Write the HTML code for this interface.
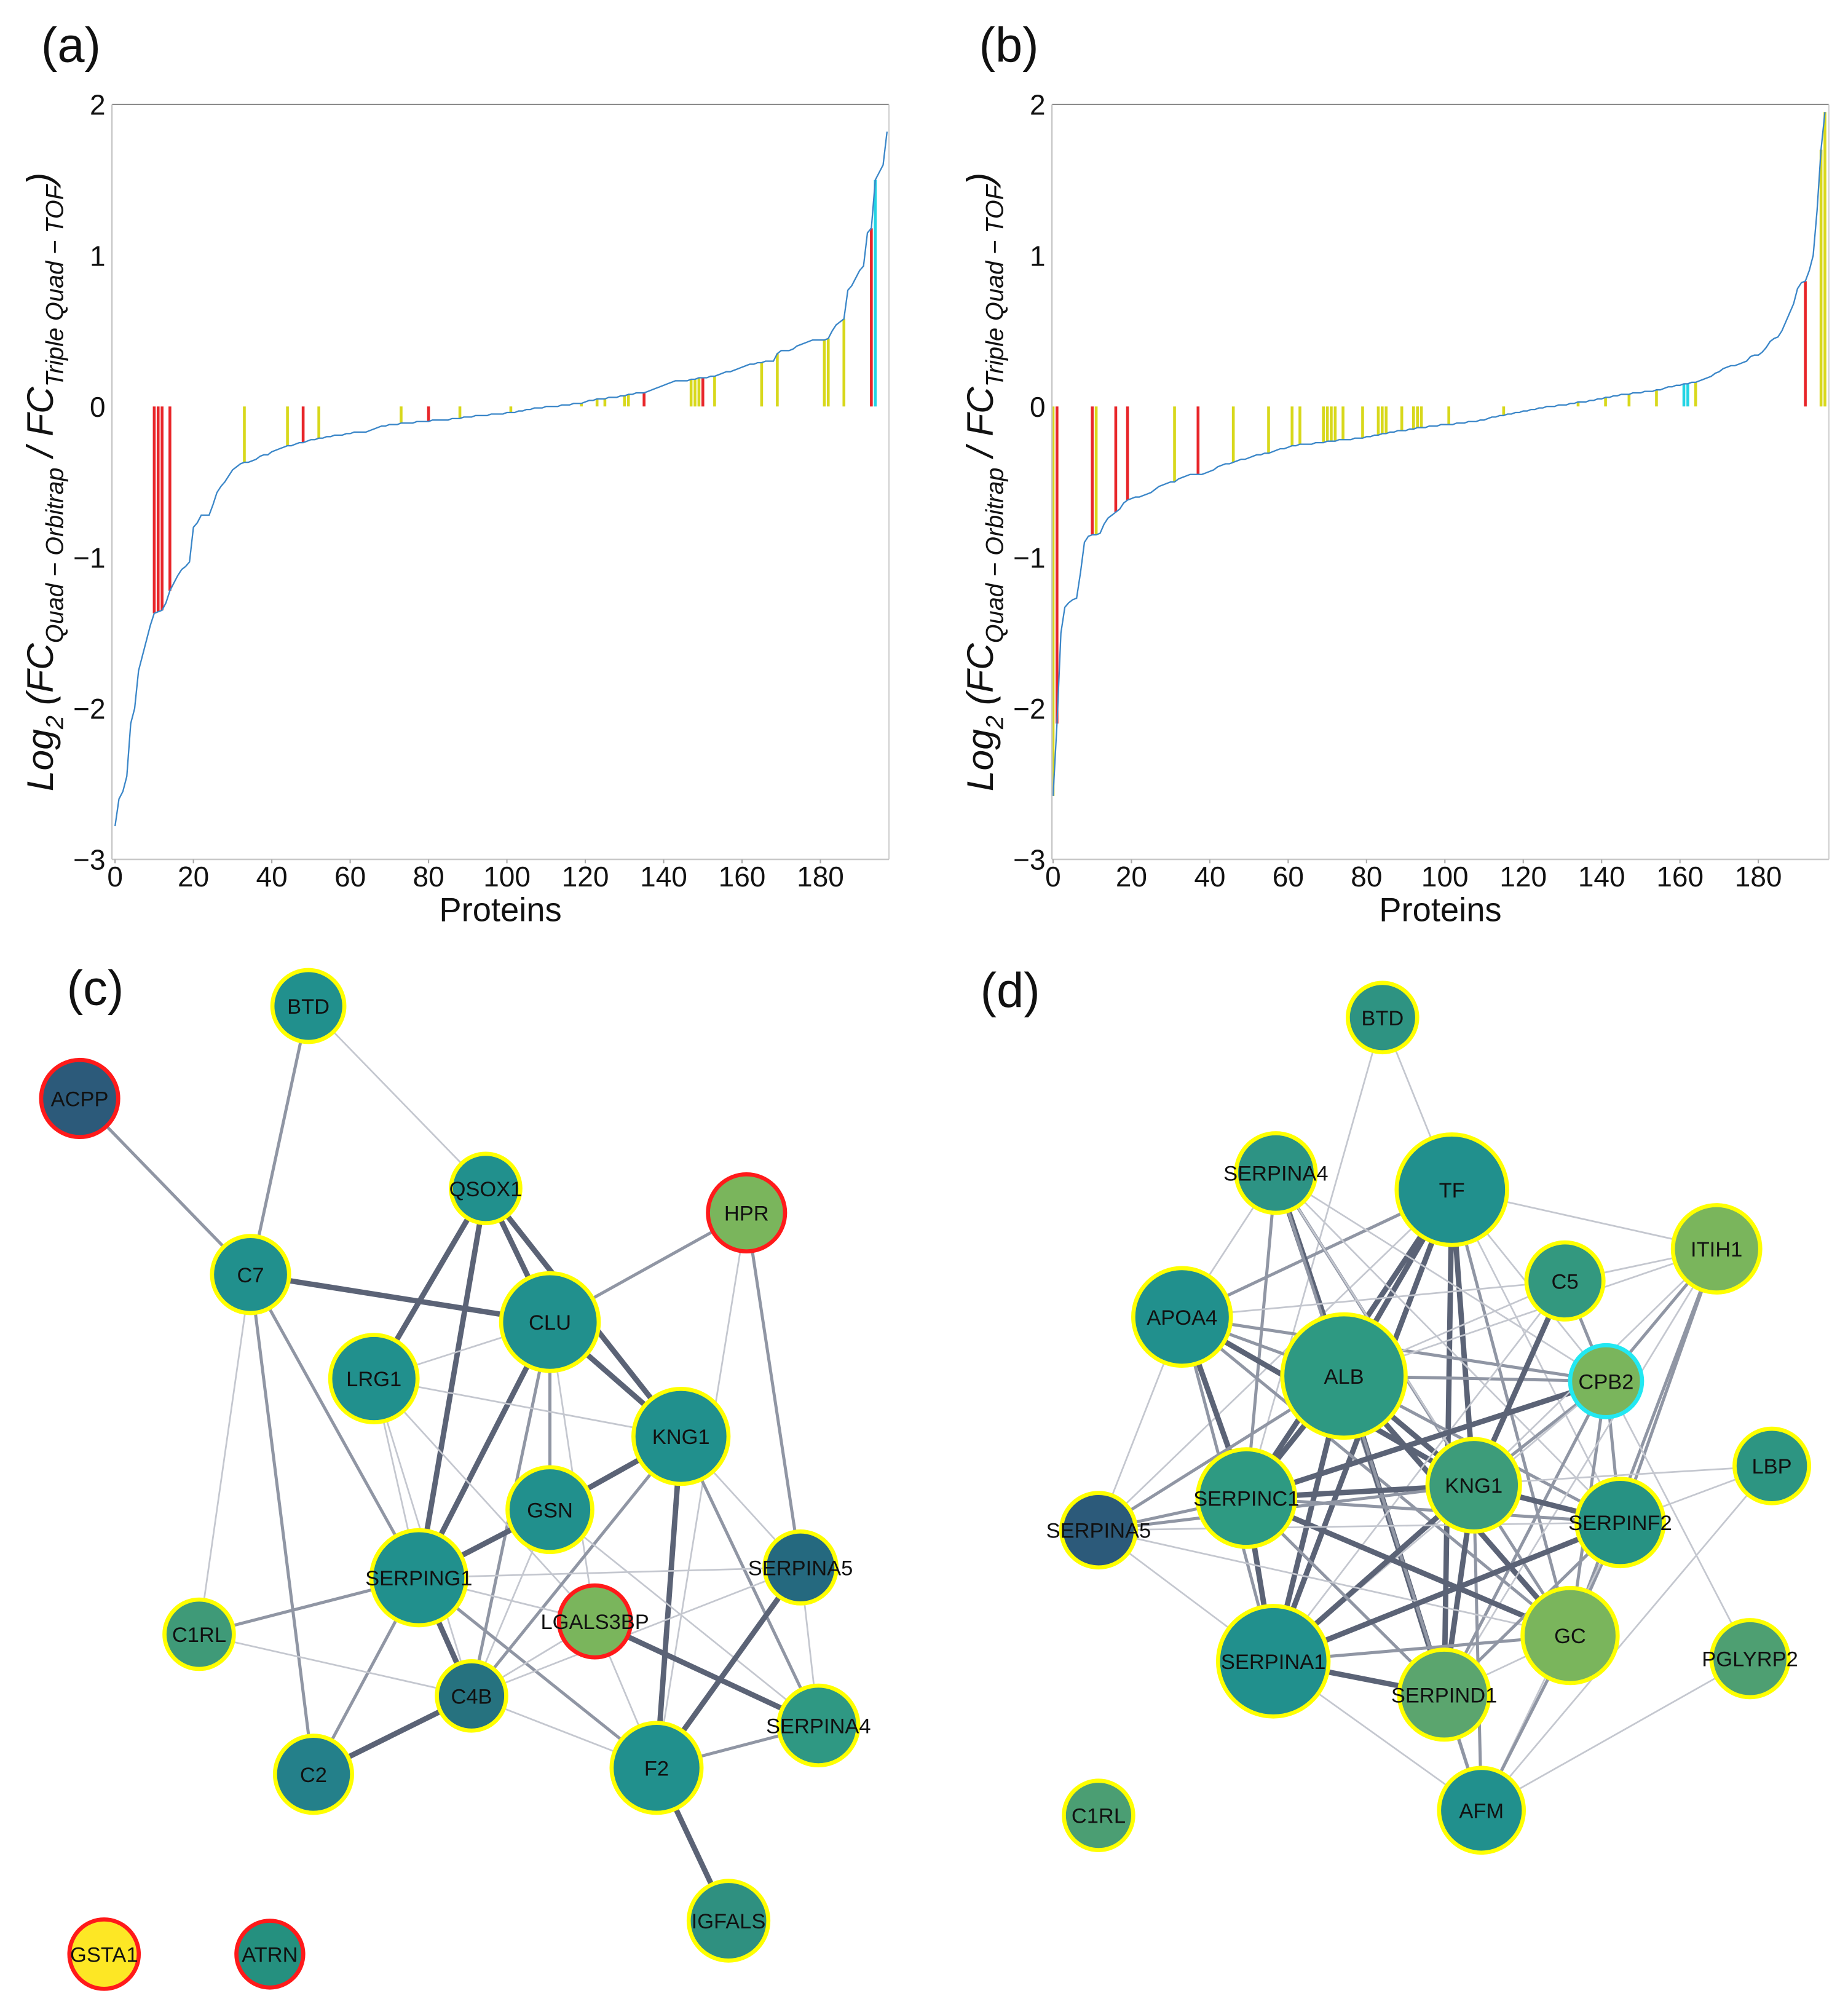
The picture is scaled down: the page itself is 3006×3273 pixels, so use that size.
<!DOCTYPE html>
<html><head><meta charset="utf-8"><style>
html,body{margin:0;padding:0;background:#fff;}
svg{display:block;}
text{font-family:"Liberation Sans",sans-serif;}
</style></head><body>
<svg id="fig" width="3006" height="3273" viewBox="0 0 1438.3 1566" xmlns="http://www.w3.org/2000/svg">
<rect width="1438.3" height="1566" fill="#fff"/>
</svg>
<script>
// ---- chart data (a) ----
const valuesA = [-2.78,-2.6,-2.55,-2.45,-2.1,-2.0,-1.75,-1.65,-1.55,-1.45,-1.37,-1.36,-1.35,-1.3,-1.22,-1.17,-1.12,-1.08,-1.06,-1.03,-0.8,-0.77,-0.72,-0.72,-0.72,-0.65,-0.57,-0.53,-0.5,-0.46,-0.42,-0.4,-0.38,-0.37,
-0.37,-0.36,-0.35,-0.33,-0.32,-0.32,-0.3,-0.29,-0.28,-0.27,-0.26,-0.26,
-0.25,-0.24,-0.24,-0.23,-0.22,-0.22,-0.21,-0.21,-0.2,-0.2,-0.19,-0.19,-0.19,-0.18,
-0.18,-0.17,-0.17,-0.17,-0.17,-0.16,-0.15,-0.14,-0.13,-0.13,
-0.12,-0.12,-0.12,-0.11,-0.11,-0.11,-0.11,-0.1,-0.1,-0.1,-0.1,-0.09,-0.09,-0.09,-0.09,-0.09,-0.08,-0.08,-0.08,-0.07,-0.07,-0.07,-0.06,-0.06,-0.06,-0.06,-0.05,-0.05,-0.05,-0.05,
-0.04,-0.04,-0.04,-0.03,-0.03,-0.02,-0.02,-0.01,-0.01,-0.01,0,0,0,0,0.01,0.01,0.01,0.02,0.02,0.02,
0.03,0.04,0.04,0.05,0.05,0.05,0.06,0.06,0.06,0.07,0.07,0.08,0.08,0.09,0.09,0.09,
0.1,0.11,0.12,0.13,0.14,0.15,0.16,0.17,0.17,0.17,0.17,0.18,0.18,0.19,
0.19,0.19,0.2,0.2,0.21,0.22,0.23,0.23,0.24,0.25,0.26,0.27,0.28,0.28,0.29,
0.29,0.3,0.3,0.3,0.35,0.37,0.37,0.37,0.38,0.4,
0.41,0.42,0.43,0.44,0.44,0.44,0.44,0.45,
0.5,0.54,0.56,0.58,0.77,0.8,0.85,0.9,0.93,1.15,1.18,1.5,1.55,1.6,1.82];
const yellowA = [33,44,52,73,88,101,119,123,125,130,131,147,148,149,153,165,169,181,182,186];
const redA = [10,11,12,14,48,80,135,150,193];
const cyanA = [194];

// ---- chart data (b) ----
const valuesB = [-2.58,-2.1,-1.5,-1.33,-1.3,-1.28,-1.27,-1.1,-0.9,-0.86,-0.85,-0.85,-0.84,-0.78,-0.74,-0.72,-0.7,-0.68,-0.64,-0.62,-0.61,-0.6,-0.6,-0.59,-0.58,-0.57,-0.55,-0.53,-0.52,-0.51,-0.5,-0.5,-0.48,-0.47,-0.46,-0.45,-0.45,-0.45,-0.45,-0.44,-0.43,-0.42,-0.4,-0.39,-0.38,-0.38,-0.37,-0.36,-0.35,-0.35,-0.34,
-0.33,-0.32,-0.32,-0.31,-0.31,-0.3,-0.29,-0.28,-0.28,-0.27,
-0.26,-0.26,-0.25,-0.25,-0.25,-0.25,-0.24,-0.24,-0.24,-0.23,
-0.23,-0.23,-0.22,-0.22,-0.22,-0.22,-0.21,-0.21,-0.21,-0.2,
-0.2,-0.19,-0.19,-0.18,-0.18,-0.17,-0.17,-0.16,-0.16,-0.16,-0.15,-0.15,-0.14,-0.14,-0.14,
-0.13,-0.13,-0.13,-0.12,-0.12,-0.12,-0.12,-0.11,-0.11,-0.11,-0.1,-0.1,-0.1,-0.09,-0.09,
-0.08,-0.07,-0.07,-0.06,-0.06,-0.05,-0.05,-0.04,-0.04,-0.03,-0.03,-0.02,-0.02,-0.01,-0.01,
0,0,0,0.01,0.01,0.01,0.02,0.02,0.03,0.03,0.03,0.04,0.04,0.05,0.05,
0.06,0.06,0.07,0.07,0.08,0.08,0.08,0.09,0.09,0.09,0.1,0.1,0.1,0.11,0.11,
0.12,0.13,0.13,0.14,0.14,0.15,0.15,0.16,0.16,0.17,
0.18,0.19,0.2,0.22,0.23,0.25,0.26,0.27,0.27,0.28,
0.29,0.3,0.33,0.34,0.34,0.36,0.39,0.43,0.45,0.46,
0.5,0.56,0.62,0.68,0.78,0.82,0.83,0.9,1.0,1.3,1.7,1.95];
const yellowB = [0,11,31,46,55,61,63,69,70,71,72,74,79,83,84,85,89,92,93,94,101,115,134,141,147,154,164,196,197];
const redB = [1,10,16,19,37,192];
const cyanB = [161,162];

const yTicks = [2,1,0,-1,-2,-3];
const xTicks = [0,20,40,60,80,100,120,140,160,180];
const yTickLabels = ["2","1","0","\u22121","\u22122","\u22123"];

const NS = "http://www.w3.org/2000/svg";
const svg = document.getElementById('fig');
function mk(tag, attrs, parent){
  const e = document.createElementNS(NS, tag);
  for (const k in attrs) e.setAttribute(k, attrs[k]);
  (parent||svg).appendChild(e);
  return e;
}

function drawChart(cfg){
  const g = mk('g', {});
  
  
  const X = v => cfg.left + (v - cfg.xmin) / (cfg.xmax - cfg.xmin) * (cfg.right - cfg.left);
  const Y = v => cfg.bottom - (v - (-3)) / 5 * (cfg.bottom - cfg.top);
  const stems = [[cfg.yellow,'#d8d81c'],[cfg.red,'#e8262a'],[cfg.cyan,'#22d4e4']];
  stems.forEach(([arr,col])=>{
    arr.forEach(i=>{
      const l = mk('line',{x1:X(i),x2:X(i),y1:Y(0),y2:Y(cfg.values[i]),stroke:col,'stroke-width':2.2},g);
      
      
    });
  });
  const pts = cfg.values.map((v,i)=>X(i).toFixed(2)+','+Y(v).toFixed(2)).join(' ');
  const pl = mk('polyline',{points:pts,fill:'none',stroke:'#3a86c8','stroke-width':1.1},g);
  
  
  mk('line',{x1:cfg.left,x2:cfg.right,y1:cfg.top,y2:cfg.top,stroke:'#8c8c8c','stroke-width':1},g);
  mk('line',{x1:cfg.left,x2:cfg.left,y1:cfg.top,y2:cfg.bottom,stroke:'#c8c8c8','stroke-width':1.2},g);
  mk('line',{x1:cfg.right,x2:cfg.right,y1:cfg.top,y2:cfg.bottom,stroke:'#d0d0d0','stroke-width':1},g);
  mk('line',{x1:cfg.left,x2:cfg.right,y1:cfg.bottom,y2:cfg.bottom,stroke:'#c8c8c8','stroke-width':1.2},g);
  yTicks.forEach((t,k)=>{
    const tx = mk('text',{x:cfg.left-5,y:Y(t)+8,'text-anchor':'end','font-size':22,fill:'#111'},g);
    tx.textContent = yTickLabels[k];
    
    
  });
  xTicks.forEach(t=>{
    mk('line',{x1:X(t),x2:X(t),y1:cfg.bottom,y2:cfg.bottom+3,stroke:'#aaa','stroke-width':1},g);
    const tx = mk('text',{x:X(t),y:cfg.bottom+21,'text-anchor':'middle','font-size':22,fill:'#111'},g);
    tx.textContent = t;
    
    
  });
  const xl = mk('text',{x:(cfg.left+cfg.right)/2,y:cfg.bottom+48,'text-anchor':'middle','font-size':26,fill:'#111'},g);
  xl.textContent = 'Proteins';
  
  
  const yl = mk('text',{x:0,y:0,'font-size':29,'font-style':'italic',fill:'#111','text-anchor':'middle',transform:'translate('+(cfg.left-46)+','+((cfg.top+cfg.bottom)/2)+') rotate(-90)'},g);
  
  
  yl.innerHTML = 'Log<tspan font-size="19" dy="8">2</tspan><tspan dy="-8"> (FC</tspan><tspan font-size="19" dy="8">Quad \u2212 Orbitrap</tspan><tspan dy="-8"> / FC</tspan><tspan font-size="19" dy="8">Triple Quad \u2212 TOF</tspan><tspan dy="-8">)</tspan>';
  const pn = mk('text',{x:cfg.labelX,y:48,'font-size':38,fill:'#111'},g);
  pn.textContent = cfg.label;
  
  
}

drawChart({name:'chart-a',label:'(a)',labelX:32,left:87.1,right:691.9,top:81.3,bottom:668.9,xmin:-0.8,xmax:197.5,values:valuesA,yellow:yellowA,red:redA,cyan:cyanA});
drawChart({name:'chart-b',label:'(b)',labelX:762,left:818.7,right:1423.4,top:81.3,bottom:668.9,xmin:-0.3,xmax:198,values:valuesB,yellow:yellowB,red:redB,cyan:cyanB});

// ---- networks ----
const TEAL='#21908d', DBLUE='#2c5a7a', GREEN='#7ab55c';
const nodesC = [
 ['BTD',240,783,28,TEAL,'y'],['ACPP',62,855,30,DBLUE,'r'],['QSOX1',378,925,27,TEAL,'y'],['HPR',581,944,30,GREEN,'r'],
 ['C7',195,992,30,TEAL,'y'],['CLU',428,1029,38,TEAL,'y'],['LRG1',291,1073,34,TEAL,'y'],['KNG1',530,1118,37,TEAL,'y'],
 ['GSN',428,1175,33,TEAL,'y'],['SERPING1',326,1228,37,TEAL,'y'],['SERPINA5',623,1220,28,'#25697f','y'],['LGALS3BP',463,1262,28,GREEN,'r'],
 ['C1RL',155,1272,27,'#3f9a78','y'],['C4B',367,1320,27,'#26727f','y'],['SERPINA4',637,1343,31,'#2f9883','y'],['C2',244,1381,30,'#24808a','y'],
 ['F2',511,1376,35,TEAL,'y'],['IGFALS',567,1495,31,'#2f9080','y'],['GSTA1',81,1521,27,'#fde725','r'],['ATRN',210,1521,26,'#25907f','r']
];
const edgesC = [
 ['ACPP','C7',2],['BTD','C7',2],['BTD','QSOX1',1],['C7','CLU',3],['C7','C1RL',1],['C7','C2',2],['C7','SERPING1',2],
 ['QSOX1','LRG1',3],['QSOX1','SERPING1',3],['QSOX1','CLU',3],['QSOX1','KNG1',3],['HPR','CLU',2],['HPR','SERPINA5',2],['HPR','F2',1],
 ['CLU','LRG1',1],['CLU','KNG1',3],['CLU','GSN',2],['CLU','SERPING1',3],['CLU','C4B',2],['CLU','LGALS3BP',1],
 ['LRG1','KNG1',1],['LRG1','SERPING1',1],['LRG1','C4B',1],['LRG1','LGALS3BP',1],['KNG1','GSN',3],['KNG1','F2',3],['KNG1','C4B',2],
 ['KNG1','SERPINA5',1],['KNG1','SERPINA4',2],['GSN','SERPING1',3],['GSN','SERPINA4',1],['GSN','C4B',1],['SERPING1','SERPINA5',1],
 ['SERPING1','C1RL',2],['SERPING1','C4B',3],['SERPING1','C2',2],['SERPING1','F2',2],['SERPING1','LGALS3BP',1],['LGALS3BP','SERPINA4',3],
 ['LGALS3BP','F2',1],['LGALS3BP','C4B',1],['SERPINA5','F2',3],['SERPINA5','SERPINA4',1],['SERPINA5','C4B',1],['C1RL','C4B',1],
 ['C4B','C2',3],['C4B','F2',1],['F2','SERPINA4',2],['F2','IGFALS',3]
];
const nodesD = [
 ['BTD',1076,792,27,'#2e9382','y'],['SERPINA4',993,913,31,'#2d9384','y'],['TF',1130,926,43,TEAL,'y'],['ITIH1',1336,972,34,GREEN,'y'],
 ['C5',1218,997,30,'#33987f','y'],['APOA4',920,1025,38,TEAL,'y'],['ALB',1046,1071,48,'#2e9982','y'],['CPB2',1250,1075,28,GREEN,'c'],
 ['LBP',1379,1141,29,'#2d9582','y'],['KNG1',1147,1156,36,'#3d9c7a','y'],['SERPINC1',970,1166,38,'#2e9a82','y'],['SERPINA5',855,1191,29,DBLUE,'y'],
 ['SERPINF2',1261,1185,34,'#279283','y'],['GC',1222,1273,37,GREEN,'y'],['SERPINA1',991,1293,43,TEAL,'y'],['PGLYRP2',1362,1291,30,'#4e9f72','y'],
 ['SERPIND1',1124,1319,35,'#5ba56e','y'],['AFM',1153,1409,33,TEAL,'y'],['C1RL',855,1413,27,'#4b9e73','y']
];
const edgesD = [
 ['BTD','TF',1],['BTD','SERPINC1',1],['TF','ITIH1',1],['TF','ALB',3],['TF','KNG1',3],['TF','SERPINA1',3],['TF','SERPINC1',3],['TF','APOA4',2],
 ['TF','SERPIND1',3],['TF','GC',2],['TF','SERPINF2',1],['TF','CPB2',1],['TF','SERPINA5',1],['SERPINA4','ALB',3],['SERPINA4','KNG1',2],
 ['SERPINA4','SERPINC1',2],['SERPINA4','APOA4',1],['SERPINA4','CPB2',1],['SERPINA4','GC',1],['SERPINA4','SERPINF2',1],['SERPINA4','SERPIND1',2],
 ['APOA4','ALB',2],['APOA4','SERPINC1',3],['APOA4','KNG1',3],['APOA4','SERPINA1',2],['APOA4','CPB2',2],['APOA4','C5',1],['APOA4','SERPINA5',1],['APOA4','GC',2],
 ['ALB','KNG1',3],['ALB','SERPINC1',3],['ALB','SERPINA1',3],['ALB','SERPIND1',3],['ALB','GC',3],['ALB','SERPINF2',2],['ALB','CPB2',2],['ALB','C5',1],
 ['ALB','SERPINA5',2],['ALB','AFM',2],['ALB','ITIH1',1],['C5','KNG1',3],['C5','CPB2',2],['C5','SERPINA1',1],['C5','ITIH1',1],
 ['CPB2','SERPINC1',3],['CPB2','KNG1',2],['CPB2','SERPINF2',2],['CPB2','GC',2],['CPB2','SERPIND1',2],['CPB2','ITIH1',2],['CPB2','SERPINA1',1],
 ['ITIH1','SERPINF2',2],['ITIH1','GC',2],['ITIH1','KNG1',1],['ITIH1','SERPIND1',1],['LBP','SERPINF2',1],['LBP','AFM',1],['LBP','SERPINC1',1],
 ['PGLYRP2','AFM',1],['PGLYRP2','CPB2',1],['KNG1','SERPINC1',3],['KNG1','SERPINF2',3],['KNG1','GC',2],['KNG1','SERPINA1',3],['KNG1','SERPIND1',3],
 ['KNG1','AFM',2],['KNG1','SERPINA5',2],['SERPINC1','SERPINA5',2],['SERPINC1','SERPINA1',3],['SERPINC1','SERPIND1',2],['SERPINC1','GC',3],
 ['SERPINC1','SERPINF2',2],['SERPINA5','SERPINA1',1],['SERPINA5','GC',1],['SERPINA5','SERPINF2',1],['SERPINF2','SERPINA1',3],['SERPINF2','GC',2],
 ['SERPINF2','SERPIND1',2],['SERPINF2','AFM',1],['GC','SERPINA1',2],['GC','SERPIND1',1],['GC','AFM',2],['SERPINA1','SERPIND1',3],
 ['SERPINA1','AFM',1],['SERPIND1','AFM',2]
];
const EDGE_STYLE = {1:['#c4c7cf',1.3],2:['#9096a4',2.4],3:['#5b6376',4.2]};
const BORDER = {y:'#ffff00',r:'#ff1a1a',c:'#22e8f2'};

function drawNetwork(name, nodes, edges, label, lx, ly){
  const g = mk('g',{});
  
  
  const pos = {};
  nodes.forEach(n=>pos[n[0]]=n);
  edges.forEach(([a,b,w])=>{
    const A=pos[a],B=pos[b];
    const l = mk('line',{x1:A[1],y1:A[2],x2:B[1],y2:B[2],stroke:EDGE_STYLE[w][0],'stroke-width':EDGE_STYLE[w][1]},g);
    
    
  });
  nodes.forEach(([id,x,y,r,fill,b])=>{
    const ng = mk('g',{},g);
    
    
    mk('circle',{cx:x,cy:y,r:r,fill:fill,stroke:BORDER[b],'stroke-width':3.2},ng);
    const t = mk('text',{x:x,y:y+6,'text-anchor':'middle','font-size':16.5,fill:'#111'},ng);
    t.textContent = id;
  });
  const pl = mk('text',{x:lx,y:ly,'font-size':38,fill:'#111'},g);
  pl.textContent = label;
  
  
}
drawNetwork('network-c', nodesC, edgesC, '(c)', 52, 782);
drawNetwork('network-d', nodesD, edgesD, '(d)', 763, 784);
</script>
</body></html>
